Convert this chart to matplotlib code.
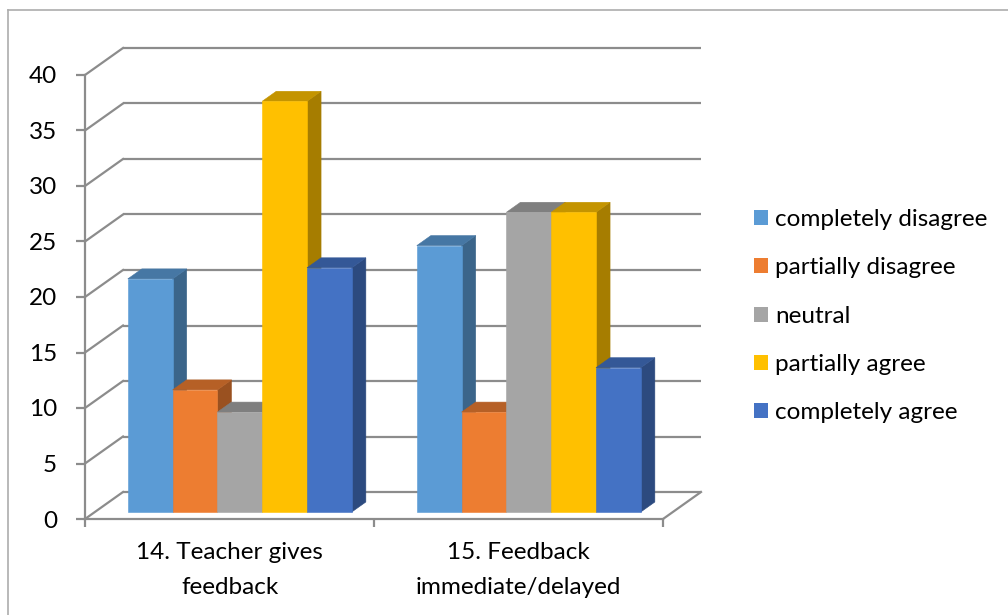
import matplotlib
matplotlib.use("Agg")
import matplotlib.pyplot as plt
from matplotlib.patches import Patch
from matplotlib.lines import Line2D
import numpy as np

categories = ["14. Teacher gives\nfeedback", "15. Feedback\nimmediate/delayed"]
series_names = ["completely disagree", "partially disagree", "neutral",
                "partially agree", "completely agree"]
completely_disagree = [21, 24]
partially_disagree = [11, 9]
neutral = [9, 27]
partially_agree = [37, 27]
completely_agree = [22, 13]
series_values = [completely_disagree, partially_disagree, neutral,
                 partially_agree, completely_agree]
colors = ["#5B9BD5", "#ED7D31", "#A5A5A5", "#FFC000", "#4472C4"]
y_ticks = [0, 5, 10, 15, 20, 25, 30, 35, 40]

plt.rcParams['font.family'] = ['Lato', 'DejaVu Sans']
FS = 17.5

W, H = 1008, 615
fig = plt.figure(figsize=(W / 100, H / 100), dpi=100)
L, R, B, T = 85, 663, 519, 75
ax = fig.add_axes([L / W, 1 - B / H, (R - L) / W, (B - T) / H])
ax.set_xlim(0, 2)
ax.set_ylim(0, 40)
ax.set_facecolor('none')

pxx = (R - L) / 2.0
pxy = (B - T) / 40.0
DX = 38 / pxx
DY = 27 / pxy

grid_c = "#8C8C8C"
lw = 1.6

# back wall and left wall gridlines
for v in y_ticks:
    ax.plot([DX, 2 + DX], [v + DY, v + DY], color=grid_c, lw=lw, clip_on=False, zorder=1,
            solid_capstyle='butt')
    ax.plot([0, DX], [v, v + DY], color=grid_c, lw=lw, clip_on=False, zorder=1)
# floor right edge
ax.plot([2, 2 + DX], [0, DY], color=grid_c, lw=lw, clip_on=False, zorder=1)

for s in ['top', 'right']:
    ax.spines[s].set_visible(False)
for s in ['left', 'bottom']:
    ax.spines[s].set_color(grid_c)
    ax.spines[s].set_linewidth(lw)

# bars
f0, f1 = 7 / 27, 17 / 27
sx, sy = f0 * DX, f0 * DY
ddx, ddy = (f1 - f0) * DX, (f1 - f0) * DY
start, bw = 0.114, 0.155


def shade(c, k):
    c = np.array(matplotlib.colors.to_rgb(c)) * k
    return tuple(c)


z = 3
for g in range(len(categories)):
    for i, vals in enumerate(series_values):
        v = vals[g]
        x0 = g + start + i * bw + sx
        x1 = x0 + bw
        col = colors[i]
        side = [(x1, sy), (x1 + ddx, sy + ddy), (x1 + ddx, v + sy + ddy), (x1, v + sy)]
        top = [(x0, v + sy), (x1, v + sy), (x1 + ddx, v + sy + ddy), (x0 + ddx, v + sy + ddy)]
        front = [(x0, sy), (x1, sy), (x1, v + sy), (x0, v + sy)]
        for poly, k in [(side, 0.65), (top, 0.77), (front, 1.0)]:
            xs, ys = zip(*poly)
            ax.fill(xs, ys, color=shade(col, k), lw=0.4, ec=shade(col, k),
                    clip_on=False, zorder=z)
            z += 1

# ticks
ax.set_yticks(y_ticks)
ax.set_yticklabels([str(t) for t in y_ticks], fontsize=FS)
ax.tick_params(axis='y', length=6.5, width=lw, color=grid_c, pad=13.5)
ax.set_xticks([0.5, 1.5])
ax.set_xticklabels(categories, fontsize=FS, linespacing=1.83)
ax.tick_params(axis='x', which='major', length=0, pad=16.5)
ax.set_xticks([0, 1, 2], minor=True)
ax.tick_params(axis='x', which='minor', length=6, width=lw, color=grid_c)

# legend
handles = [Patch(facecolor=c, edgecolor='none') for c in colors]
fig.legend(handles, series_names, loc='upper left',
           bbox_to_anchor=(754 / W, 1 - 209 / H), frameon=False, fontsize=FS,
           handlelength=0.58, handleheight=0.58, handletextpad=0.3,
           labelspacing=1.125, borderaxespad=0, borderpad=0)

# chart border
bc = "#ADADAD"
fig.add_artist(Line2D([8 / W, 1], [1 - 10 / H, 1 - 10 / H], transform=fig.transFigure,
                      color=bc, lw=1.2))
fig.add_artist(Line2D([8 / W, 8 / W], [0, 1 - 10 / H], transform=fig.transFigure,
                      color=bc, lw=1.2))

fig.savefig("out.png", dpi=100)
